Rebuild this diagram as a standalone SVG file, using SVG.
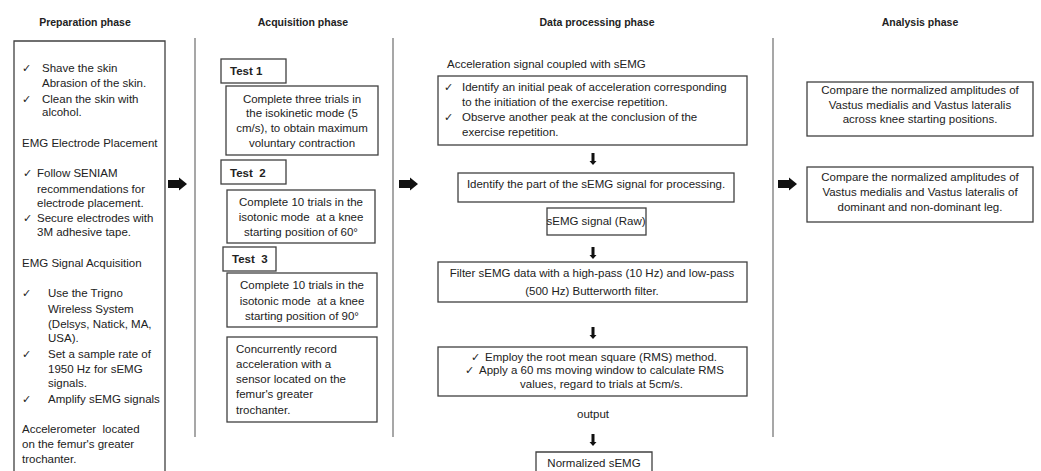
<svg xmlns="http://www.w3.org/2000/svg" width="1041" height="471" viewBox="0 0 1041 471">
<defs>
<style>
text{font-family:"Liberation Sans",Arial,sans-serif;font-size:11.5px;fill:#222}
.t{font-weight:bold;font-size:10.5px;text-anchor:middle}
.b{font-weight:bold}
.c{text-anchor:middle}
.k{font-family:"DejaVu Sans",sans-serif;font-size:11px}
.box{fill:#fff;stroke:#404040;stroke-width:1.3}
.sep{stroke:#8a8a8a;stroke-width:1.5}
.ra{fill:#111}
</style>
<path id="rarrow" class="ra" d="M0,-4 L11,-4 L11,-6.5 L19,0 L11,6.5 L11,4 L0,4 Z"/>
<path id="darrow" class="ra" d="M-1.5,0 L1.5,0 L1.5,8 L3.5,8 L0,12 L-3.5,8 L-1.5,8 Z"/>
</defs>
<rect width="1041" height="471" fill="#fff"/>
<g id="titles">
<text class="t" x="85" y="26">Preparation phase</text>
<text class="t" x="303" y="26">Acquisition phase</text>
<text class="t" x="597" y="26">Data processing phase</text>
<text class="t" x="920" y="26">Analysis phase</text>
</g>
<g id="separators">
<line class="sep" x1="195" y1="38" x2="195" y2="437"/>
<line class="sep" x1="393" y1="38" x2="393" y2="437"/>
<line class="sep" x1="773" y1="38" x2="773" y2="437"/>
</g>
<g id="preparation">
<path class="box" d="M14,480 L14,41 L165,41 L165,480"/>
<text class="k" x="22" y="72">✓</text>
<text x="42" y="72">Shave the skin</text>
<text x="42" y="87">Abrasion of the skin.</text>
<text class="k" x="22" y="103">✓</text>
<text x="42" y="103">Clean the skin with</text>
<text x="42" y="116">alcohol.</text>
<text x="22" y="147">EMG Electrode Placement</text>
<text class="k" x="23" y="177">✓</text>
<text x="37" y="177">Follow SENIAM</text>
<text x="37" y="193">recommendations for</text>
<text x="37" y="207">electrode placement.</text>
<text class="k" x="23" y="222">✓</text>
<text x="37" y="222">Secure electrodes with</text>
<text x="37" y="236">3M adhesive tape.</text>
<text x="22" y="267">EMG Signal Acquisition</text>
<text class="k" x="22" y="297">✓</text>
<text x="48" y="297">Use the Trigno</text>
<text x="48" y="313">Wireless System</text>
<text x="48" y="328">(Delsys, Natick, MA,</text>
<text x="48" y="342">USA).</text>
<text class="k" x="22" y="358">✓</text>
<text x="48" y="358">Set a sample rate of</text>
<text x="48" y="373">1950 Hz for sEMG</text>
<text x="48" y="387">signals.</text>
<text class="k" x="22" y="403">✓</text>
<text x="48" y="403">Amplify sEMG signals</text>
<text x="22" y="433" xml:space="preserve">Accelerometer  located</text>
<text x="22" y="448">on the femur's greater</text>
<text x="22" y="463">trochanter.</text>
</g>
<g id="test1">
<rect class="box" x="221" y="59" width="65" height="24"/>
<text class="b" x="230" y="75">Test 1</text>
</g>
<g id="trial1">
<rect class="box" x="226" y="86" width="152" height="69"/>
<text class="c" x="302" y="103">Complete three trials in</text>
<text class="c" x="302" y="117">the isokinetic mode (5</text>
<text class="c" x="302" y="132">cm/s), to obtain maximum</text>
<text class="c" x="302" y="147">voluntary contraction</text>
</g>
<g id="test2">
<rect class="box" x="221" y="160" width="65" height="24"/>
<text class="b" x="230" y="177" xml:space="preserve">Test  2</text>
</g>
<g id="trial2">
<rect class="box" x="227" y="190" width="148" height="53"/>
<text class="c" x="301" y="206">Complete 10 trials in the</text>
<text class="c" x="301" y="221" xml:space="preserve">isotonic mode  at a knee</text>
<text class="c" x="301" y="236">starting position of 60°</text>
</g>
<g id="test3">
<rect class="box" x="223" y="247" width="53" height="24"/>
<text class="b" x="232" y="263" xml:space="preserve">Test  3</text>
</g>
<g id="trial3">
<rect class="box" x="227" y="273" width="150" height="54"/>
<text class="c" x="302" y="289">Complete 10 trials in the</text>
<text class="c" x="302" y="305" xml:space="preserve">isotonic mode  at a knee</text>
<text class="c" x="302" y="320">starting position of 90°</text>
</g>
<g id="record">
<rect class="box" x="227" y="337" width="150" height="85"/>
<text x="236" y="353">Concurrently record</text>
<text x="236" y="368">acceleration with a</text>
<text x="236" y="383">sensor located on the</text>
<text x="236" y="398">femur's greater</text>
<text x="236" y="414">trochanter.</text>
</g>
<g id="accel-label">
<text x="447" y="68">Acceleration signal coupled with sEMG</text>
</g>
<g id="identify-peaks">
<rect class="box" x="438" y="76" width="309" height="69"/>
<text class="k" x="444" y="91">✓</text>
<text x="462" y="91">Identify an initial peak of acceleration corresponding</text>
<text x="462" y="106">to the initiation of the exercise repetition.</text>
<text class="k" x="444" y="121">✓</text>
<text x="462" y="121">Observe another peak at the conclusion of the</text>
<text x="462" y="136">exercise repetition.</text>
</g>
<g id="identify-part">
<rect class="box" x="458" y="173" width="276" height="29"/>
<text class="c" x="596" y="188">Identify the part of the sEMG signal for processing.</text>
</g>
<g id="raw">
<rect class="box" x="547" y="208" width="99" height="27"/>
<text class="c" x="596" y="225">sEMG signal (Raw)</text>
</g>
<g id="filter">
<rect class="box" x="438" y="262" width="309" height="40"/>
<text class="c" x="592" y="277">Filter sEMG data with a high-pass (10 Hz) and low-pass</text>
<text class="c" x="592" y="295">(500 Hz) Butterworth filter.</text>
</g>
<g id="rms">
<rect class="box" x="438" y="347" width="309" height="49"/>
<text class="k" x="471" y="361">✓</text>
<text x="485" y="361">Employ the root mean square (RMS) method.</text>
<text class="k" x="465" y="374">✓</text>
<text x="479" y="374">Apply a 60 ms moving window to calculate RMS</text>
<text x="520" y="388">values, regard to trials at 5cm/s.</text>
</g>
<g id="output-label">
<text class="c" x="593" y="418">output</text>
</g>
<g id="normalized">
<path class="box" d="M536,480 L536,452 L652,452 L652,480"/>
<text class="c" x="594" y="467">Normalized sEMG</text>
</g>
<g id="compare-positions">
<rect class="box" x="807" y="82" width="226" height="54"/>
<text class="c" x="920" y="94">Compare the normalized amplitudes of</text>
<text class="c" x="920" y="109">Vastus medialis and Vastus lateralis</text>
<text class="c" x="920" y="123">across knee starting positions.</text>
</g>
<g id="compare-legs">
<rect class="box" x="807" y="167" width="226" height="55"/>
<text class="c" x="920" y="181">Compare the normalized amplitudes of</text>
<text class="c" x="920" y="196">Vastus medialis and Vastus lateralis of</text>
<text class="c" x="920" y="211">dominant and non-dominant leg.</text>
</g>
<g id="connectors">
<use href="#rarrow" x="168" y="184"/>
<use href="#rarrow" x="399" y="184"/>
<use href="#rarrow" x="778" y="184"/>
<use href="#darrow" x="593" y="153"/>
<use href="#darrow" x="593" y="247"/>
<use href="#darrow" x="593" y="327"/>
<use href="#darrow" x="593" y="434"/>
</g>
</svg>
